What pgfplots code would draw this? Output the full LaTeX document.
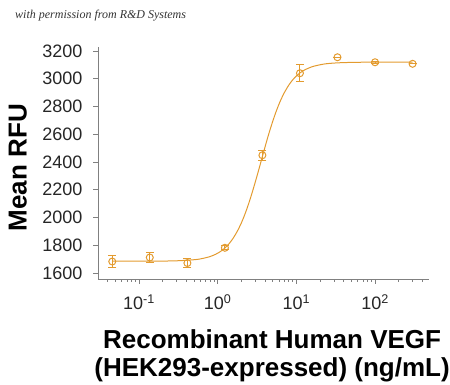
\documentclass[border=0pt]{standalone}
\usepackage{fontspec}
\setmainfont{Liberation Sans}
\newfontfamily\capfont{Liberation Serif}
\usepackage{pgfplots}
\pgfplotsset{compat=1.18}
\definecolor{curve}{RGB}{227,155,47}
\begin{document}
\begin{tikzpicture}[x=1pt,y=1pt]
\useasboundingbox (-98,-106) rectangle (352,279);
\node[anchor=west, font=\capfont\itshape\fontsize{12}{14}\selectfont, text=black!80, inner sep=0pt] at (-83,263) {with permission from R\&D Systems};
\begin{axis}[
  at={(0,0)}, anchor=south west,
  scale only axis, width=331pt, height=232pt,
  xmode=log, xmin=0.0301, xmax=485, ymin=1557, ymax=3229,
  axis x line*=bottom, axis y line*=left,
  axis line style={-, gray, line width=0.7pt},
  tick align=outside, major tick length=5pt, minor tick length=3pt,
  tick style={gray, line width=0.6pt},
  /pgf/number format/assume math mode=true,
  /pgf/number format/1000 sep={},
  xtick={0.1,1,10,100},
  xticklabels={\textrm{10\textsuperscript{-1}},\textrm{10\textsuperscript{0}},\textrm{10\textsuperscript{1}},\textrm{10\textsuperscript{2}}},
  minor xtick={0.04,0.05,0.06,0.07,0.08,0.09,0.2,0.3,0.4,0.5,0.6,0.7,0.8,0.9,2,3,4,5,6,7,8,9,20,30,40,50,60,70,80,90,200,300,400},
  ytick={1600,1800,...,3200},
  yticklabel={\pgfmathprintnumber[assume math mode=true,1000 sep={},fixed,precision=0]{\tick}},
  ticklabel style={font=\fontsize{18}{20}\selectfont, text=black!85},
  yticklabel style={xshift=-7pt},
  xticklabel style={yshift=-7pt},
  xlabel={Recombinant Human VEGF\\(HEK293-expressed) (ng/mL)},
  xlabel style={at={(axis description cs:0.526,-0.33)}, anchor=center, align=center, font=\bfseries\fontsize{26}{28}\selectfont},
  ylabel={Mean RFU},
  ylabel style={at={(axis description cs:-0.242,0.48)}, anchor=center, font=\bfseries\fontsize{26}{28}\selectfont},
  clip=false,
]
\addplot[curve, line width=1pt, no marks, smooth] coordinates {
(0.0457,1685) (0.2512,1687) (0.5012,1696) (0.631,1704) (0.7943,1718) (0.8913,1729)
(1,1743) (1.122,1761) (1.259,1785) (1.413,1815) (1.585,1854) (1.778,1902) (1.995,1960)
(2.239,2030) (2.512,2111) (2.818,2202) (3.162,2300) (3.548,2402) (3.981,2505) (4.467,2604)
(5.012,2694) (5.623,2775) (6.310,2845) (7.079,2903) (7.943,2951) (8.913,2990) (10,3020)
(11.22,3044) (12.59,3062) (15.85,3087) (22.39,3106) (31.62,3114) (50.12,3118) (100,3120) (300,3120)
};
\addplot[curve, line width=1pt, only marks, mark=o, mark size=3.5pt,
  error bars/.cd, y dir=both, y explicit,
  error bar style={line width=1pt, curve},
  error mark options={rotate=90, mark size=4pt, line width=1pt, curve}]
  coordinates {
(0.0457,1683) +- (0,40)
(0.137,1712) +- (0,36)
(0.412,1672) +- (0,35)
(1.235,1782) +- (0,15)
(3.70,2449) +- (0,35)
(11.1,3040) +- (0,62)
(33.3,3155) +- (0,0)
(100,3119) +- (0,8)
(300,3108) +- (0,0)
};
\end{axis}
\end{tikzpicture}
\end{document}
